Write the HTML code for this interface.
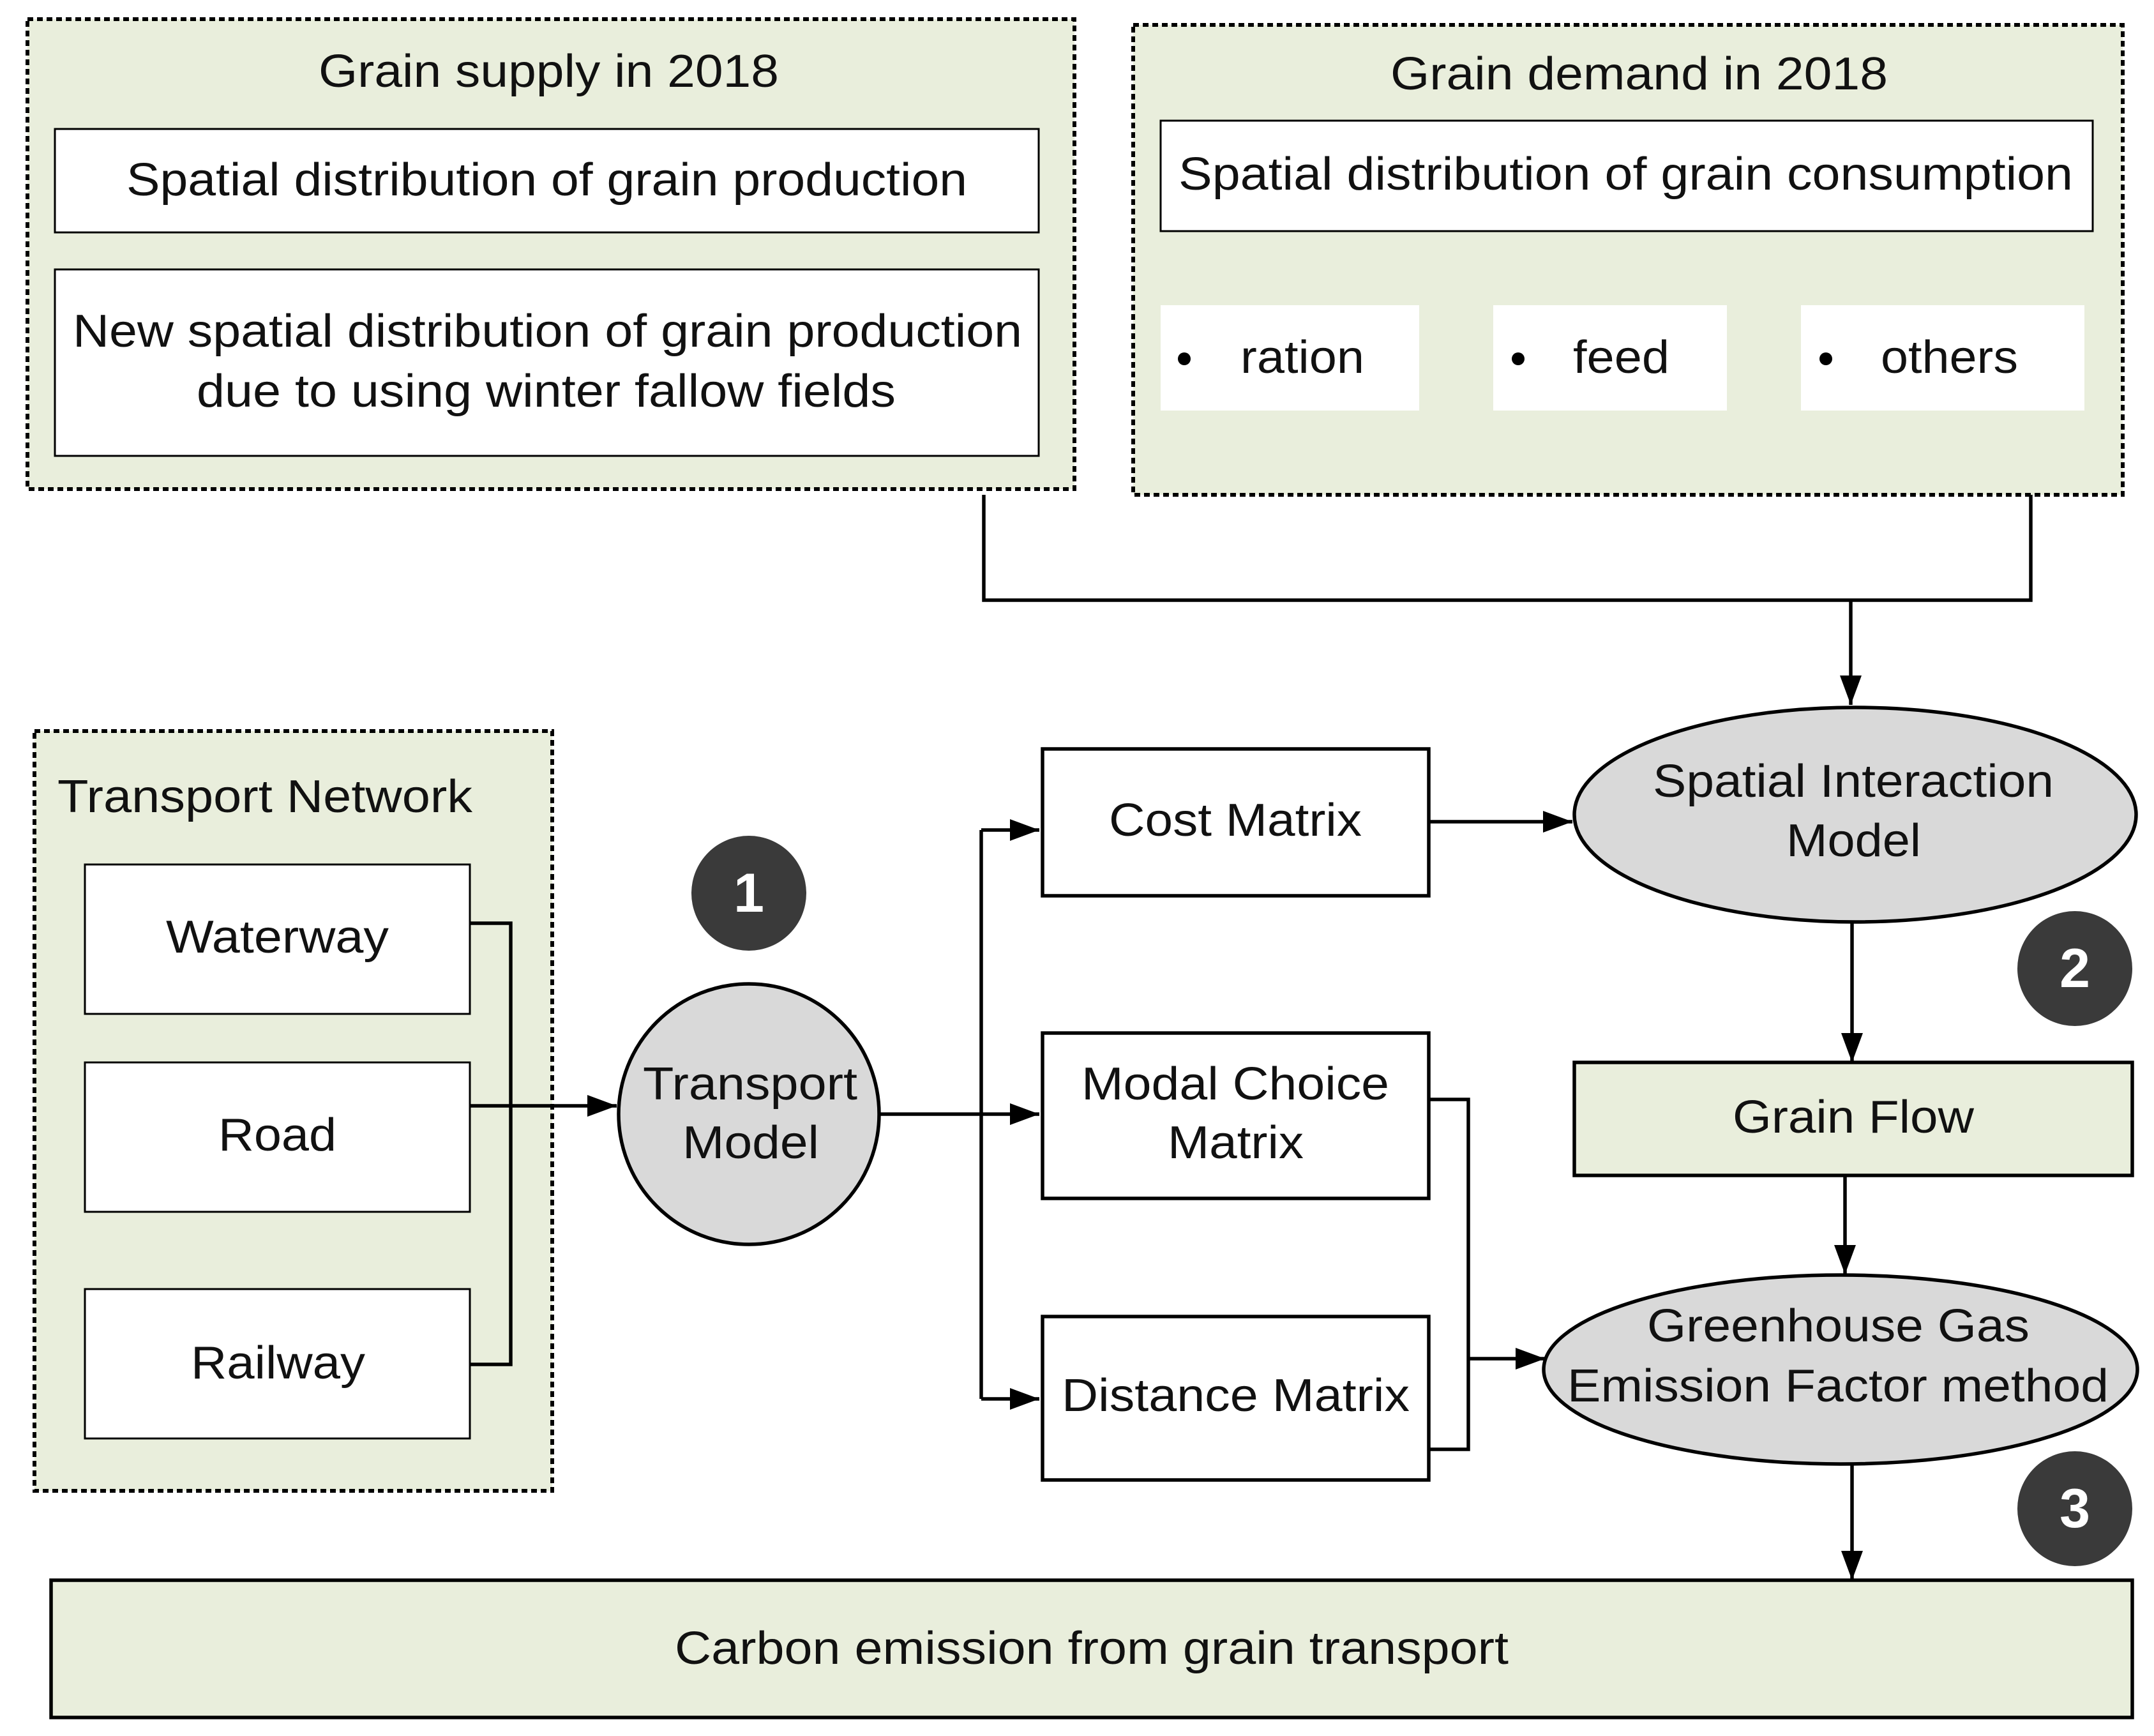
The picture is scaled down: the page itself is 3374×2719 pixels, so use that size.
<!DOCTYPE html>
<html><head><meta charset="utf-8"><style>html,body{margin:0;padding:0;background:#fff}svg{display:block}</style></head>
<body>
<svg width="3374" height="2719" viewBox="0 0 3374 2719" xmlns="http://www.w3.org/2000/svg" font-family="Liberation Sans, Arial, sans-serif" font-size="72" fill="#111">
<defs>
<marker id="a" viewBox="0 0 10 10" refX="10" refY="5" markerWidth="46" markerHeight="34" markerUnits="userSpaceOnUse" orient="auto" preserveAspectRatio="none"><path d="M0,0 L10,5 L0,10 z" fill="#000"/></marker>
</defs>
<g stroke="#000" stroke-width="5.5" fill="none">
<rect x="43" y="30" width="1640" height="736" fill="#e9eedc" stroke-dasharray="9 6" stroke-width="6"/>
<rect x="1775" y="39" width="1550" height="736" fill="#e9eedc" stroke-dasharray="9 6" stroke-width="6"/>
<rect x="86" y="202" width="1541" height="162" fill="#fff" stroke-width="3"/>
<rect x="86" y="422" width="1541" height="292" fill="#fff" stroke-width="3"/>
<rect x="1818" y="189" width="1460" height="173" fill="#fff" stroke-width="3"/>
<rect x="1818" y="478" width="405" height="165" fill="#fff" stroke="none"/>
<rect x="2339" y="478" width="366" height="165" fill="#fff" stroke="none"/>
<rect x="2821" y="478" width="444" height="165" fill="#fff" stroke="none"/>
<rect x="54" y="1145" width="811" height="1190" fill="#e9eedc" stroke-dasharray="9 6" stroke-width="6"/>
<rect x="133" y="1354" width="603" height="234" fill="#fff" stroke-width="3"/>
<rect x="133" y="1664" width="603" height="234" fill="#fff" stroke-width="3"/>
<rect x="133" y="2019" width="603" height="234" fill="#fff" stroke-width="3"/>
<path d="M1541,775 V940 H3181 V775"/>
<path d="M2899,940 V1104" marker-end="url(#a)"/>
<path d="M736,1446 H800 V2137 H736"/>
<path d="M736,1732 H966" marker-end="url(#a)"/>
<circle cx="1173" cy="1745" r="204" fill="#d9d9d9"/>
<path d="M1377,1745 H1628" marker-end="url(#a)"/>
<path d="M1537,1300 V2191"/>
<path d="M1537,1300 H1628" marker-end="url(#a)"/>
<path d="M1537,2191 H1628" marker-end="url(#a)"/>
<rect x="1633" y="1173" width="605" height="230" fill="#fff"/>
<rect x="1633" y="1618" width="605" height="259" fill="#fff"/>
<rect x="1633" y="2062" width="605" height="256" fill="#fff"/>
<path d="M2238,1287 H2463" marker-end="url(#a)"/>
<path d="M2238,1722 H2300 V2270 H2238"/>
<path d="M2300,2128 H2420" marker-end="url(#a)"/>
<ellipse cx="2906" cy="1276" rx="440" ry="168" fill="#d9d9d9"/>
<path d="M2901,1444 V1664" marker-end="url(#a)"/>
<rect x="2466" y="1664" width="874" height="177" fill="#e9eedc"/>
<path d="M2890,1841 V1996" marker-end="url(#a)"/>
<ellipse cx="2883" cy="2145" rx="465" ry="148" fill="#d9d9d9"/>
<path d="M2901,2293 V2475" marker-end="url(#a)"/>
<rect x="80" y="2475" width="3260" height="215" fill="#e9eedc"/>
</g>
<g fill="#3a3a3a">
<circle cx="1173" cy="1399" r="90"/>
<circle cx="3250" cy="1517" r="90"/>
<circle cx="3250" cy="2363" r="90"/>
</g>
<g fill="#fff" font-weight="bold" font-size="86" text-anchor="middle" dominant-baseline="central">
<text x="1173" y="1399">1</text>
<text x="3250" y="1517">2</text>
<text x="3250" y="2363">3</text>
</g>
<g dominant-baseline="central">
<text x="499" y="112" textLength="721" lengthAdjust="spacingAndGlyphs">Grain supply in 2018</text>
<text x="198" y="282" textLength="1317" lengthAdjust="spacingAndGlyphs">Spatial distribution of grain production</text>
<text x="114" y="519" textLength="1487" lengthAdjust="spacingAndGlyphs">New spatial distribution of grain production</text>
<text x="308" y="613" textLength="1095" lengthAdjust="spacingAndGlyphs">due to using winter fallow fields</text>
<text x="2178" y="116" textLength="779" lengthAdjust="spacingAndGlyphs">Grain demand in 2018</text>
<text x="1846" y="273" textLength="1401" lengthAdjust="spacingAndGlyphs">Spatial distribution of grain consumption</text>
<text x="1943" y="560" textLength="194" lengthAdjust="spacingAndGlyphs">ration</text>
<text x="2464" y="560" textLength="151" lengthAdjust="spacingAndGlyphs">feed</text>
<text x="2946" y="560" textLength="215" lengthAdjust="spacingAndGlyphs">others</text>
<text x="90" y="1248" textLength="650" lengthAdjust="spacingAndGlyphs">Transport Network</text>
<text x="260" y="1468" textLength="349" lengthAdjust="spacingAndGlyphs">Waterway</text>
<text x="342" y="1778" textLength="185" lengthAdjust="spacingAndGlyphs">Road</text>
<text x="299" y="2135" textLength="273" lengthAdjust="spacingAndGlyphs">Railway</text>
<text x="1007" y="1698" textLength="336" lengthAdjust="spacingAndGlyphs">Transport</text>
<text x="1069" y="1790" textLength="214" lengthAdjust="spacingAndGlyphs">Model</text>
<text x="1737" y="1285" textLength="396" lengthAdjust="spacingAndGlyphs">Cost Matrix</text>
<text x="1694" y="1698" textLength="482" lengthAdjust="spacingAndGlyphs">Modal Choice</text>
<text x="1829" y="1790" textLength="213" lengthAdjust="spacingAndGlyphs">Matrix</text>
<text x="1663" y="2186" textLength="545" lengthAdjust="spacingAndGlyphs">Distance Matrix</text>
<text x="2589" y="1224" textLength="628" lengthAdjust="spacingAndGlyphs">Spatial Interaction</text>
<text x="2798" y="1317" textLength="211" lengthAdjust="spacingAndGlyphs">Model</text>
<text x="2714" y="1750" textLength="378" lengthAdjust="spacingAndGlyphs">Grain Flow</text>
<text x="2580" y="2077" textLength="599" lengthAdjust="spacingAndGlyphs">Greenhouse Gas</text>
<text x="2455" y="2171" textLength="848" lengthAdjust="spacingAndGlyphs">Emission Factor method</text>
<text x="1057" y="2582" textLength="1306" lengthAdjust="spacingAndGlyphs">Carbon emission from grain transport</text>
</g>
<g fill="#000">
<circle cx="1855" cy="562" r="10"/>
<circle cx="2378" cy="562" r="10"/>
<circle cx="2860" cy="562" r="10"/>
</g>
</svg>
</body></html>
